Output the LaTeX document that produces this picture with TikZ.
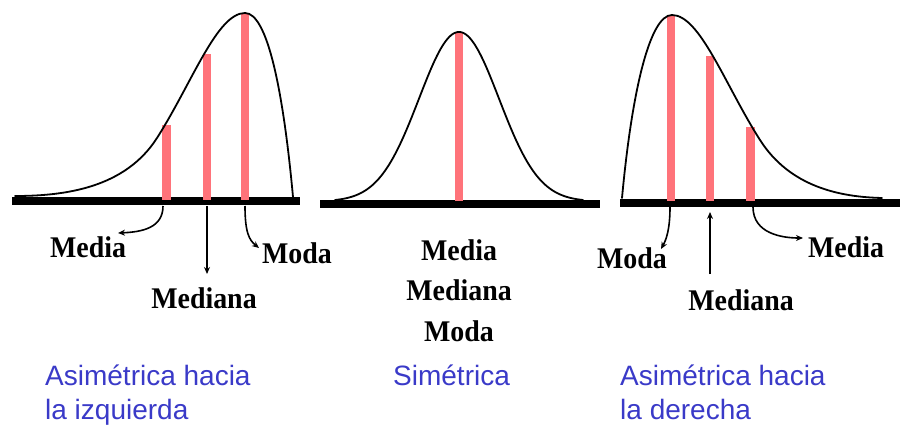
\documentclass[tikz,border=0pt]{standalone}
\usepackage{fontspec}
\setmainfont{Liberation Serif}
\newfontfamily\capfont{Liberation Sans}
\usetikzlibrary{arrows.meta}
\definecolor{pinkbar}{RGB}{255,115,122}
\definecolor{capblue}{RGB}{58,58,200}
\newcommand{\meastext}[1]{\scalebox{0.93}[1]{#1}}
\tikzset{
  axisbar/.style={line width=8pt, black},
  curveline/.style={line width=1.8pt, black, line cap=round},
  pinkline/.style={line width=8.5pt, pinkbar},
  arrowline/.style={line width=1.6pt, black, -{Stealth[length=7pt,width=6pt]}},
  meas/.style={font=\bfseries\fontsize{30}{32}\selectfont, inner sep=0pt, anchor=base},
  caption/.style={font=\capfont\fontsize{28}{34}\selectfont, text=capblue, inner sep=0pt, align=left, anchor=base west}
}
\begin{document}
\begin{tikzpicture}[x=1pt,y=-1pt]
\useasboundingbox (0,0) rectangle (901,430);

% ---------------- left panel ----------------
\draw[axisbar] (12,201.5) -- (300,201.5);
\draw[pinkline] (166.5,200) -- (166.5,125);
\draw[pinkline] (207,200) -- (207,54);
\draw[pinkline] (245,200) -- (245,13);
\draw[curveline] (15,196) .. controls (65,196) and (125,188) .. (157,138)
  .. controls (192,83) and (217,13) .. (245,13)
  .. controls (267,13) and (283,88) .. (293,197);

\coordinate (l1) at (163,206);
\coordinate (l2) at (207,206);
\coordinate (l3) at (245,206);
\coordinate (l1e) at (118,233);
\coordinate (l2e) at (207,274);
\coordinate (l3e) at (259,248);
\draw[arrowline] (l1) .. controls (163,228) and (142,232) .. (l1e);
\draw[arrowline] (l2) -- (l2e);
\draw[arrowline] (l3) .. controls (245,232) and (249,240) .. (l3e);

\node[meas] (lmedia) at (88,258) {\meastext{Media}};
\node[meas] (lmediana) at (204,308) {\meastext{Mediana}};
\node[meas] (lmoda) at (297,263) {\meastext{Moda}};

% ---------------- middle panel ----------------
\draw[axisbar] (320,204) -- (600,204);
\draw[pinkline, line width=7.5pt] (459,201) -- (459,33);
\draw[curveline] plot[domain=-3.1:3.1, samples=120, smooth]
  ({459+\x*40},{200-169.4*(exp(-\x*\x/2)-0.0082)});

\node[meas] (mmedia) at (459,260) {\meastext{Media}};
\node[meas] (mmediana) at (459,300) {\meastext{Mediana}};
\node[meas] (mmoda) at (459,341) {\meastext{Moda}};

% ---------------- right panel ----------------
\draw[axisbar] (620,203) -- (900,203);
\draw[pinkline] (671,201) -- (671,15);
\draw[pinkline] (710,201) -- (710,56);
\draw[pinkline] (750.5,201) -- (750.5,127);
\draw[curveline] (622,198) .. controls (632,90) and (650,15) .. (672,15)
  .. controls (700,15) and (725,85) .. (760,140)
  .. controls (790,187) and (840,197) .. (882,198);

\coordinate (r1) at (670,207);
\coordinate (r2e) at (710,212);
\coordinate (r3) at (753,207);
\coordinate (r1e) at (661,249);
\coordinate (r2) at (710,274);
\coordinate (r3e) at (803,238);
\draw[arrowline] (r1) .. controls (670,230) and (666,240) .. (r1e);
\draw[arrowline] (r2) -- (r2e);
\draw[arrowline] (r3) .. controls (753,234) and (783,238) .. (r3e);

\node[meas] (rmoda) at (632,268) {\meastext{Moda}};
\node[meas] (rmediana) at (741,310) {\meastext{Mediana}};
\node[meas] (rmedia) at (846,258) {\meastext{Media}};

% ---------------- captions ----------------
\node[caption] (capl) at (45,419) {Asimétrica hacia\\la izquierda};
\node[caption] (capm) at (393,385) {Simétrica};
\node[caption] (capr) at (620,419) {Asimétrica hacia\\la derecha};
\end{tikzpicture}
\end{document}
